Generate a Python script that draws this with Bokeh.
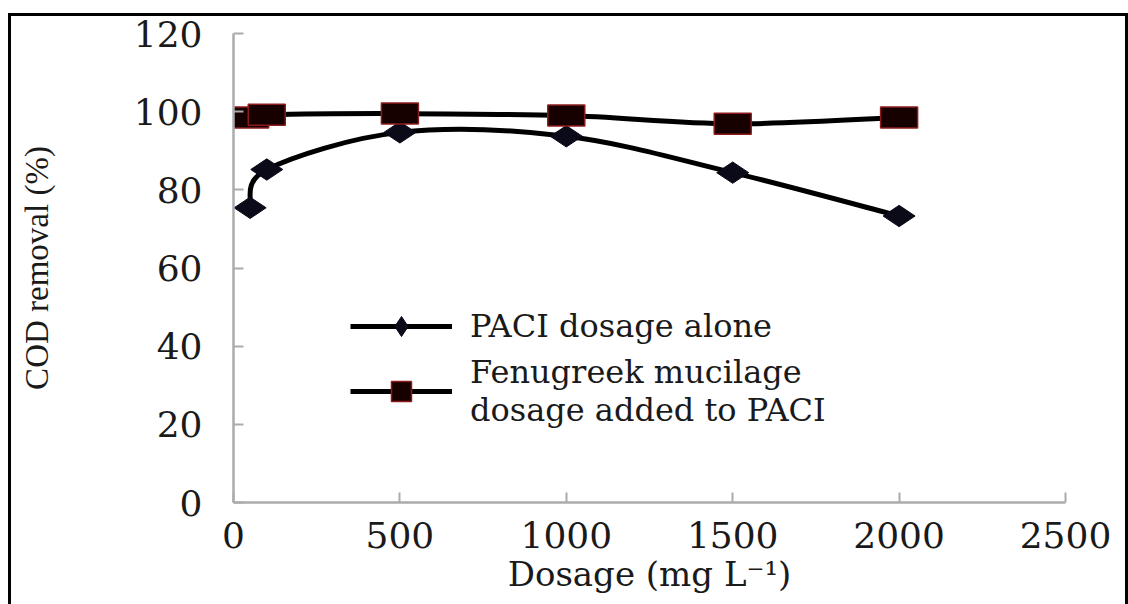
import numpy as np
from bokeh.plotting import figure
from bokeh.models import Range1d, Legend, LegendItem
from bokeh.embed import file_html
from bokeh.resources import INLINE

# ---- data ----
dosage = [50, 100, 500, 1000, 1500, 2000]
paci_alone = [75.4, 85.2, 94.7, 93.7, 84.4, 73.3]
fenugreek_paci = [98.5, 99.2, 99.5, 99.0, 96.9, 98.5]
x_ticks = [0, 500, 1000, 1500, 2000, 2500]
y_ticks = [0, 20, 40, 60, 80, 100, 120]
series_labels = ["PACI dosage alone", "Fenugreek mucilage\ndosage added to PACI"]
x_title = "Dosage (mg L\u207b\u00b9)"
y_title = "COD removal (%)"


def smooth(xs, ys):
    """Catmull-Rom style bezier control points (spreadsheet 'smoothed line')."""
    x = np.asarray(xs, float)
    y = np.asarray(ys, float)
    n = len(x)
    xp = np.concatenate([[x[0]], x, [x[-1]]])
    yp = np.concatenate([[y[0]], y, [y[-1]]])
    cx0 = xp[1:n] + (xp[2:n + 1] - xp[0:n - 1]) / 6.0
    cy0 = yp[1:n] + (yp[2:n + 1] - yp[0:n - 1]) / 6.0
    cx1 = xp[2:n + 1] - (xp[3:n + 2] - xp[1:n]) / 6.0
    cy1 = yp[2:n + 1] - (yp[3:n + 2] - yp[1:n]) / 6.0
    return dict(x0=x[:-1], y0=y[:-1], x1=x[1:], y1=y[1:],
                cx0=cx0, cy0=cy0, cx1=cx1, cy1=cy1)


p = figure(width=1120, height=596,
           x_range=Range1d(0, 2500), y_range=Range1d(0, 120),
           output_backend="svg", toolbar_location=None,
           min_border_left=225, min_border_right=63,
           min_border_top=25, min_border_bottom=102)
# black frame round the picture (top edge a little below the page top)
p.styles = {"margin-left": "8px",
            "margin-top": "8px",
            "background-color": "white",
            "box-shadow": "inset 0 5px 0 #ffffff, inset 0 8px 0 #000000, "
                          "inset 3px 0 0 #000000, inset -3px 0 0 #000000"}
p.outline_line_color = None
p.xgrid.grid_line_color = None
p.ygrid.grid_line_color = None
p.background_fill_color = "white"
p.border_fill_color = None

for ax in (p.xaxis, p.yaxis):
    ax.axis_line_color = "#ababab"
    ax.axis_line_width = 2.5
    ax.major_tick_line_color = "#ababab"
    ax.major_tick_line_width = 2
    ax.major_tick_in = 10
    ax.major_tick_out = 0
    ax.minor_tick_line_color = None
    ax.major_label_text_font = "DejaVu Serif"
    ax.major_label_text_font_size = "36px"
    ax.major_label_text_color = "#1a1a1a"

p.xaxis.ticker = x_ticks
p.yaxis.ticker = y_ticks
p.xaxis.major_label_standoff = 19
p.yaxis.major_label_standoff = 31

p.xaxis.axis_label = x_title
p.xaxis.axis_label_text_font = "DejaVu Serif"
p.xaxis.axis_label_text_font_size = "34px"
p.xaxis.axis_label_text_font_style = "normal"
p.xaxis.axis_label_text_color = "#1a1a1a"
p.xaxis.axis_label_standoff = 3

p.yaxis.axis_label = y_title
p.yaxis.axis_label_text_font = "Liberation Serif"
p.yaxis.axis_label_text_font_size = "33px"
p.yaxis.axis_label_text_font_style = "normal"
p.yaxis.axis_label_text_color = "#1a1a1a"
p.yaxis.axis_label_standoff = 76

# ---- series ----
s1 = smooth(dosage, paci_alone)
s2 = smooth(dosage, fenugreek_paci)

l1 = p.bezier(x0="x0", y0="y0", x1="x1", y1="y1", cx0="cx0", cy0="cy0",
              cx1="cx1", cy1="cy1", source=s1, line_color="black", line_width=5)
l2 = p.bezier(x0="x0", y0="y0", x1="x1", y1="y1", cx0="cx0", cy0="cy0",
              cx1="cx1", cy1="cy1", source=s2, line_color="black", line_width=5)

# square marker used as the legend glyph (hidden under the plot's rectangles)
lg_mark2 = p.scatter(dosage, fenugreek_paci, marker="square", size=18,
                     fill_color="#170000", line_color="#8c1c1c", line_width=1.5)

m1 = p.scatter(dosage, paci_alone, marker="diamond", size=32, angle=np.pi / 2,
               fill_color="#0a0a18", line_color="#0a0a18")
m2 = p.rect(dosage, fenugreek_paci, width=37, height=21,
            width_units="screen", height_units="screen",
            fill_color="#170000", line_color="#8c1c1c", line_width=1.5)

legend = Legend(items=[LegendItem(label=series_labels[0], renderers=[l1, m1]),
                       LegendItem(label=series_labels[1], renderers=[l2, lg_mark2])],
                location=(117, 73))
legend.background_fill_alpha = 0
legend.border_line_color = None
legend.padding = 0
legend.margin = 0
legend.spacing = 2
legend.glyph_width = 102
legend.glyph_height = 50
legend.label_standoff = 18
legend.label_text_font = "DejaVu Serif"
legend.label_text_font_size = "32px"
legend.label_text_color = "#1a1a1a"
p.add_layout(legend, "center")

open("out.html", "w").write(file_html(p, INLINE))
